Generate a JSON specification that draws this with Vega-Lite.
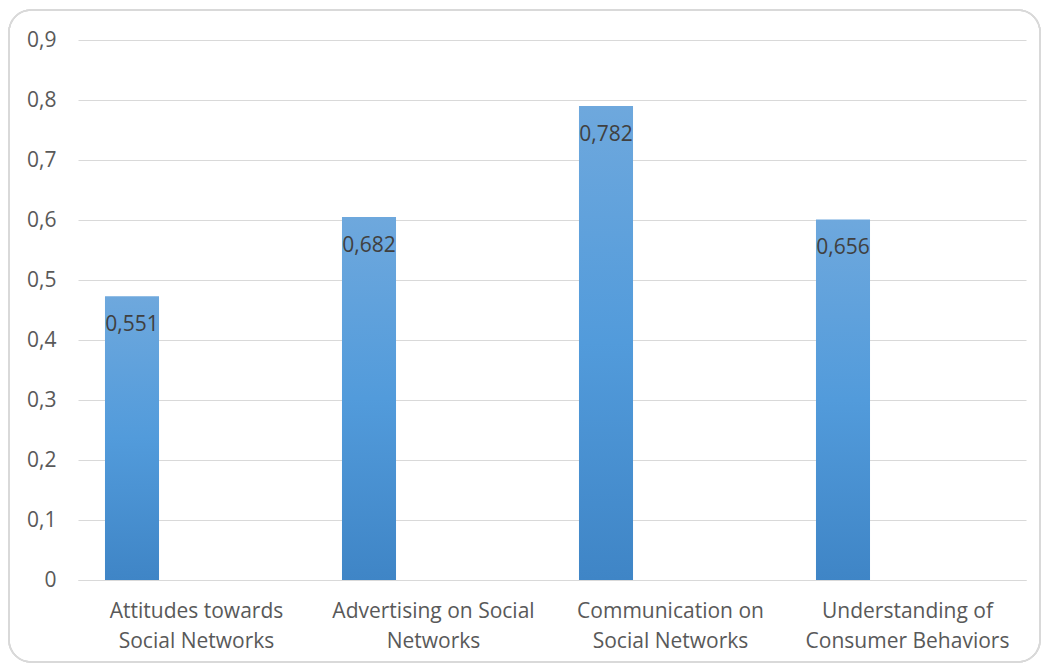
{
  "$schema": "https://vega.github.io/schema/vega-lite/v6.json",
  "autosize": {"type": "pad"},
  "padding": {"left": 8, "top": 9, "right": 0, "bottom": 0},
  "width": 948,
  "height": 540,
  "background": "white",
  "config": {
    "locale": {"number": {"decimal": ",", "thousands": ".", "grouping": [3], "currency": ["", " €"]}},
    "view": {"stroke": null},
    "font": "Open Sans"
  },
  "data": {
    "values": [
      {"category": "Attitudes towards Social Networks", "value": 0.473, "label": 0.551},
      {"category": "Advertising on Social Networks", "value": 0.605, "label": 0.682},
      {"category": "Communication on Social Networks", "value": 0.79, "label": 0.782},
      {"category": "Understanding of Consumer Behaviors", "value": 0.601, "label": 0.656}
    ]
  },
  "encoding": {
    "x": {
      "field": "category", "type": "nominal", "sort": null,
      "scale": {"paddingInner": 0, "paddingOuter": 0},
      "axis": {
        "title": null, "labelAngle": 0, "ticks": false,
        "domainColor": "#d9d9d9", "domainWidth": 1,
        "labelColor": "#595959", "labelFont": "Open Sans", "labelFontSize": 21,
        "labelPadding": 20, "labelLineHeight": 30, "labelBaseline": "top", "labelLimit": 0,
        "labelExpr": "datum.label == 'Attitudes towards Social Networks' ? ['Attitudes towards','Social Networks'] : datum.label == 'Advertising on Social Networks' ? ['Advertising on Social','Networks'] : datum.label == 'Communication on Social Networks' ? ['Communication on','Social Networks'] : ['Understanding of','Consumer Behaviors']"
      }
    },
    "y": {
      "field": "value", "type": "quantitative",
      "scale": {"domain": [0, 0.9], "nice": false},
      "axis": {
        "title": null, "values": [0, 0.1, 0.2, 0.3, 0.4, 0.5, 0.6, 0.7, 0.8, 0.9],
        "format": ".1~f", "domain": false, "ticks": false,
        "gridColor": "#d9d9d9", "gridWidth": 1,
        "labelColor": "#595959", "labelFont": "Open Sans", "labelFontSize": 21,
        "labelPadding": 22
      }
    }
  },
  "layer": [
    {
      "mark": {"type": "rect", "fill": null, "stroke": "#d9d9d9", "strokeWidth": 1.5, "cornerRadius": 22,
               "xOffset": -69, "x2Offset": 14, "yOffset": -30, "y2Offset": 82},
      "encoding": {"x": {"value": 0}, "x2": {"value": "width"}, "y": {"value": 0}, "y2": {"value": "height"}}
    },
    {
      "mark": {"type": "bar", "width": {"band": 0.228}, "xOffset": -64.5,
        "color": {"gradient": "linear", "x1": 0, "y1": 0, "x2": 0, "y2": 1,
          "stops": [{"offset": 0, "color": "#6ea8dd"}, {"offset": 0.5, "color": "#529bdb"}, {"offset": 1, "color": "#3f85c6"}]}}
    },
    {
      "mark": {"type": "text", "xOffset": -64.5, "dy": 29, "baseline": "middle", "align": "center",
               "fontSize": 21, "color": "#404040", "font": "Open Sans"},
      "encoding": {"text": {"field": "label", "type": "quantitative", "format": ".3f"}}
    }
  ]
}
